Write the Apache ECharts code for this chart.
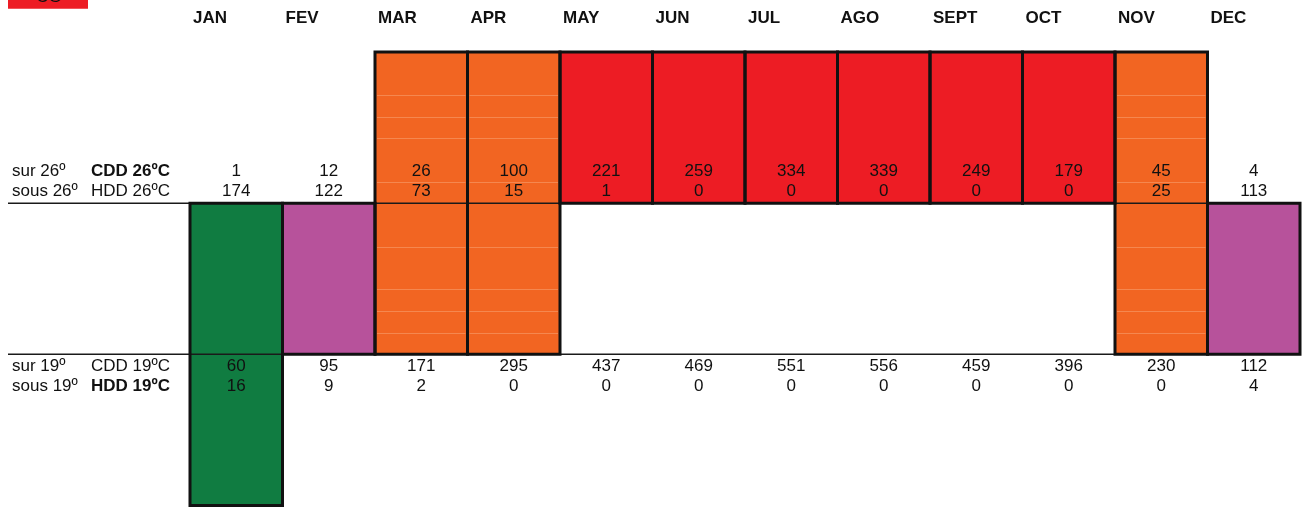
<!DOCTYPE html>
<html><head><meta charset="utf-8">
<script src="https://cdn.jsdelivr.net/npm/echarts@6/dist/echarts.min.js"></script>
<style>html,body{margin:0;padding:0;background:#fff}#c{width:1304px;height:507px}</style>
</head><body><div id="c"></div>
<script>
const months = ['JAN','FEV','MAR','APR','MAY','JUN','JUL','AGO','SEPT','OCT','NOV','DEC'];
const cdd26 = [1,12,26,100,221,259,334,339,249,179,45,4];
const hdd26 = [174,122,73,15,1,0,0,0,0,0,25,113];
const cdd19 = [60,95,171,295,437,469,551,556,459,396,230,112];
const hdd19 = [16,9,2,0,0,0,0,0,0,0,0,4];
const zoneLow  = [0,1,1,1,2,2,2,2,2,2,1,1];
const zoneHigh = [2,2,3,3,3,3,3,3,3,3,3,2];
const zoneClass = ['cold','cool','mild','mild','hot','hot','hot','hot','hot','hot','mild','cool'];
const rowLabels = ['sur 26º','sous 26º','sur 19º','sous 19º'];
const rowNames  = ['CDD 26ºC','HDD 26ºC','CDD 19ºC','HDD 19ºC'];
const rowBold   = [true,false,false,true];
const cornerLabel = 'CG';

const FONT = '"Liberation Sans", Arial, sans-serif';
const FS = 17;
const zoneColors = {cold:'#107C41', cool:'#B7529B', mild:'#F26522', hot:'#ED1C24'};
const faint = {2:[0.284,0.428,0.571,0.858], 1:[0.288,0.569,0.713,0.856]};
const rows = [cdd26, hdd26, cdd19, hdd19];
const rowBase = [2,2,1,1];
const rowOff = [-32,-12,12,32];

const cellData = months.map((m,i)=>[i, zoneLow[i], zoneHigh[i]]);

const chart = echarts.init(document.getElementById('c'), null, {renderer:'canvas'});

function cellGeom(api){
  const i = api.value(0), lo = api.value(1), hi = api.value(2);
  const w = api.size([1,0])[0];
  const t = api.coord([i, hi]), b = api.coord([i, lo]);
  return {i, lo, hi, x: t[0]-w/2, y: t[1], w, h: b[1]-t[1]};
}

const option = {
  animation:false,
  grid:{left:190, right:4, top:52, bottom:1.5},
  xAxis:{type:'category', data:months, show:false, boundaryGap:true},
  yAxis:{type:'value', min:0, max:3, show:false},
  graphic:[
    {type:'rect', shape:{x:8,y:0,width:80,height:8.7}, style:{fill:'#ED1C24'}},
    {type:'text', style:{text:cornerLabel, x:49, y:-3, align:'center', verticalAlign:'middle', font: FS+'px '+FONT, fill:'#111'}, z:10}
  ],
  series:[
    { // fills
      type:'custom', z:1, clip:false, data:cellData, encode:{x:0,y:[1,2]},
      renderItem(params, api){
        const g = cellGeom(api);
        const ch = [{type:'rect', shape:{x:g.x,y:g.y,width:g.w,height:g.h}, style:{fill:zoneColors[zoneClass[g.i]]}}];
        if (zoneClass[g.i]==='mild'){
          for (let band=g.lo; band<g.hi; band++){
            const bt = api.coord([g.i, band+1])[1], bb = api.coord([g.i, band])[1];
            (faint[band]||[]).forEach(f=>{
              const yy = Math.round(bt + f*(bb-bt))+0.5;
              ch.push({type:'line', shape:{x1:g.x+2,y1:yy,x2:g.x+g.w-2,y2:yy}, style:{stroke:'#F5874F', lineWidth:1}});
            });
          }
        }
        return {type:'group', children:ch};
      }
    },
    { // separator lines + left row labels
      type:'custom', z:2, clip:false, data:[[0,0,0]], encode:{x:0,y:1},
      renderItem(params, api){
        const w = api.size([1,0])[0];
        const right = api.coord([11,2])[0]+w/2;
        const ch = [];
        [2,1].forEach(v=>{
          const y = api.coord([0,v])[1];
          ch.push({type:'line', shape:{x1:8,y1:y,x2:right,y2:y}, style:{stroke:'#1a1a1a', lineWidth:1.5}});
        });
        rowLabels.forEach((lab,r)=>{
          const y = api.coord([0,rowBase[r]])[1] + rowOff[r];
          ch.push({type:'text', style:{text:lab, x:12, y, align:'left', verticalAlign:'middle', font: FS+'px '+FONT, fill:'#111'}});
          ch.push({type:'text', style:{text:rowNames[r], x:91, y, align:'left', verticalAlign:'middle', font:(rowBold[r]?'bold ':'')+FS+'px '+FONT, fill:'#111'}});
        });
        return {type:'group', children:ch};
      }
    },
    { // borders
      type:'custom', z:3, clip:false, data:cellData, encode:{x:0,y:[1,2]},
      renderItem(params, api){
        const g = cellGeom(api);
        return {type:'rect', shape:{x:g.x,y:g.y,width:g.w,height:g.h}, style:{fill:null, stroke:'#111', lineWidth:3}};
      }
    },
    { // texts
      type:'custom', z:4, clip:false, data:cellData, encode:{x:0,y:[1,2]},
      renderItem(params, api){
        const i = api.value(0);
        const w = api.size([1,0])[0];
        const cx = api.coord([i,2])[0];
        const ch = [{type:'text', style:{text:months[i], x:cx-w/2+3, y:18, align:'left', verticalAlign:'middle', font:'bold '+FS+'px '+FONT, fill:'#111'}}];
        rows.forEach((arr,r)=>{
          const y = api.coord([i,rowBase[r]])[1] + rowOff[r];
          ch.push({type:'text', style:{text:String(arr[i]), x:cx, y, align:'center', verticalAlign:'middle', font: FS+'px '+FONT, fill:'#111'}});
        });
        return {type:'group', children:ch};
      }
    }
  ]
};
chart.setOption(option);
</script></body></html>
